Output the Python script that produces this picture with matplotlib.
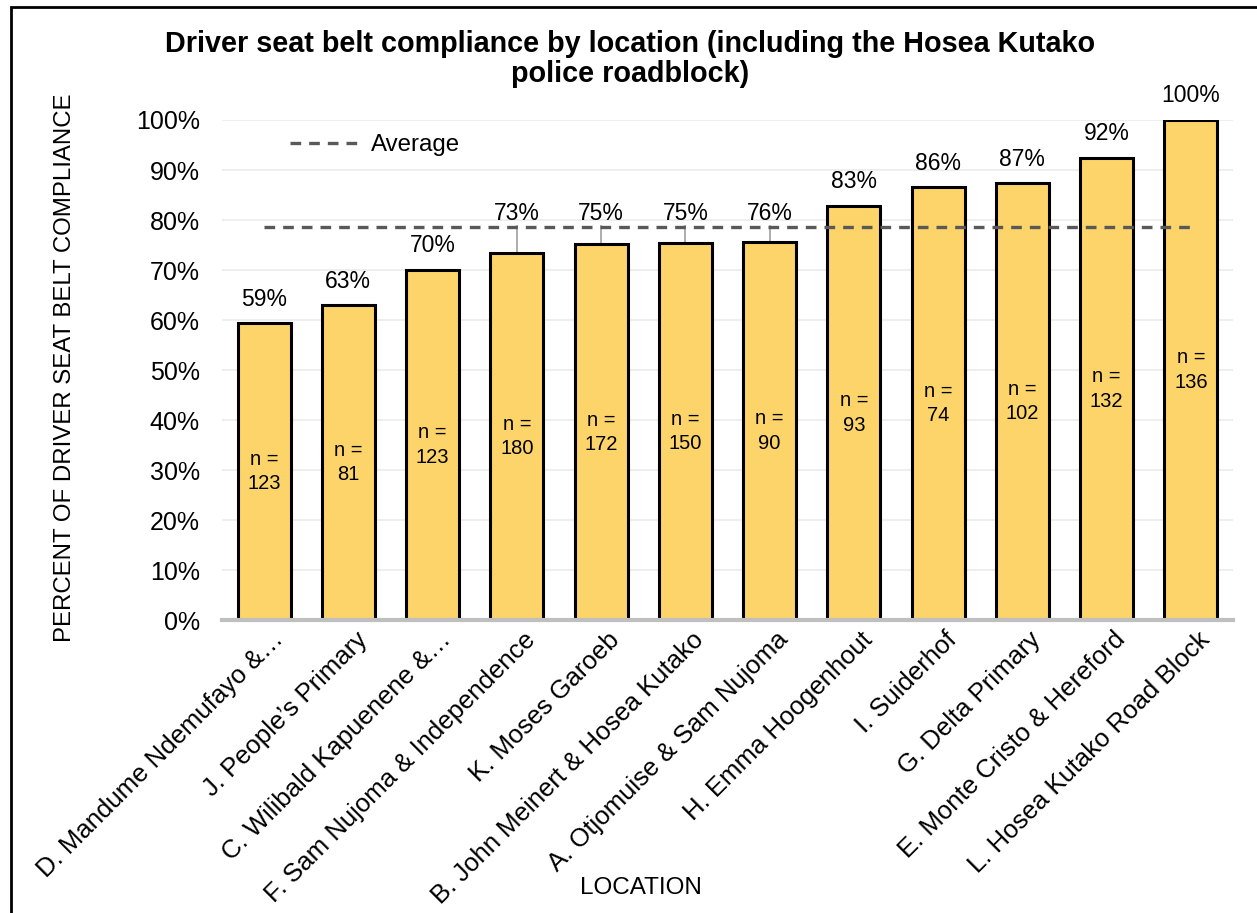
import matplotlib
matplotlib.use('Agg')
import matplotlib.pyplot as plt
import matplotlib.transforms as mtrans
from matplotlib.patches import Rectangle

plt.rcParams['font.family'] = ['Liberation Sans', 'DejaVu Sans']

# datos
locations = ['D. Mandume Ndemufayo &…', 'J. People’s Primary', 'C. Wilibald Kapuenene &…',
             'F. Sam Nujoma & Independence', 'K. Moses Garoeb', 'B. John Meinert & Hosea Kutako',
             'A. Otjomuise & Sam Nujoma', 'H. Emma Hoogenhout', 'I. Suiderhof', 'G. Delta Primary',
             'E. Monte Cristo & Hereford', 'L. Hosea Kutako Road Block']
compliance = [59.3, 63.0, 70.0, 73.4, 75.1, 75.4, 75.6, 82.8, 86.5, 87.3, 92.4, 100.0]
pct_labels = ['59%', '63%', '70%', '73%', '75%', '75%', '76%', '83%', '86%', '87%', '92%', '100%']
n_obs = [123, 81, 123, 180, 172, 150, 90, 93, 74, 102, 132, 136]
average = 78.6
leader_idx = [3, 4, 5, 6]   # etiquetas desplazadas sobre la linea de promedio

W, H = 1257, 913
fig = plt.figure(figsize=(W / 100, H / 100), dpi=100)
ax = fig.add_axes([222 / W, 1 - 620 / H, (1233 - 222) / W, 500 / H])

x = list(range(len(locations)))
ax.bar(x, compliance, width=0.63, color='#FCD46A', edgecolor='black', linewidth=2.2, zorder=2)
ax.plot([0, len(x) - 1], [average, average], ls=(0, (3.2, 2.4)), color='#595959', lw=2.4,
        zorder=3, label='Average')

ax.set_xlim(-0.5, len(x) - 0.5)
ax.set_ylim(0, 100)
ax.set_yticks(range(0, 101, 10))
ax.set_yticklabels([f'{v}%' for v in range(0, 101, 10)], fontsize=18)
ax.yaxis.grid(True, color='#EDEDED', lw=1.3, zorder=0)
ax.set_axisbelow(True)
for s in ['top', 'right', 'left']:
    ax.spines[s].set_visible(False)
ax.spines['bottom'].set_color('#BFBFBF')
ax.spines['bottom'].set_linewidth(3)
ax.tick_params(axis='y', length=0, pad=16)
ax.tick_params(axis='x', length=0, pad=10)

ax.set_xticks(x)
ax.set_xticklabels(locations, rotation=45, ha='right', rotation_mode='anchor', va='center',
                   fontsize=18.5)
shift = mtrans.ScaledTranslation(15 / 100, -2 / 100, fig.dpi_scale_trans)
for lab in ax.get_xticklabels():
    lab.set_transform(lab.get_transform() + shift)

# etiquetas de porcentaje
for i, v in enumerate(compliance):
    if i in leader_idx:
        ax.text(i, 80.0, pct_labels[i], ha='center', va='baseline', fontsize=16.5, zorder=4)
        ax.plot([i, i], [v, 78.7], color='#A6A6A6', lw=1.3, zorder=1.5)
    else:
        ax.annotate(pct_labels[i], (i, v), xytext=(0, 12.6), textcoords='offset points',
                    ha='center', va='baseline', fontsize=16.5, annotation_clip=False)
    ax.text(i, v / 2, f'n =\n{n_obs[i]}', ha='center', va='center', fontsize=14.5,
            linespacing=1.35, zorder=4)

ax.legend(loc='center left', bbox_to_anchor=(280 / W, 1 - 145 / H), bbox_transform=fig.transFigure,
          frameon=False, fontsize=17.3, handlelength=3.0, handletextpad=0.4, borderaxespad=0)

fig.text(630 / W, 1 - 59 / H, 'Driver seat belt compliance by location (including the Hosea Kutako\npolice roadblock)',
         ha='center', va='center', fontsize=20.7, fontweight='bold', linespacing=1.06)
fig.text(65 / W, 1 - 368 / H, 'PERCENT OF DRIVER SEAT BELT COMPLIANCE', rotation=90,
         ha='center', va='center', fontsize=17.3)
fig.text(641 / W, 1 - 888 / H, 'LOCATION', ha='center', va='center', fontsize=17.5)

# marco del grafico
fig.add_artist(Rectangle((11 / W, -0.1), 1.2, 1.1 - 7 / H, transform=fig.transFigure,
                         fill=False, edgecolor='black', lw=2, clip_on=False))

fig.savefig('out.png', dpi=100)
